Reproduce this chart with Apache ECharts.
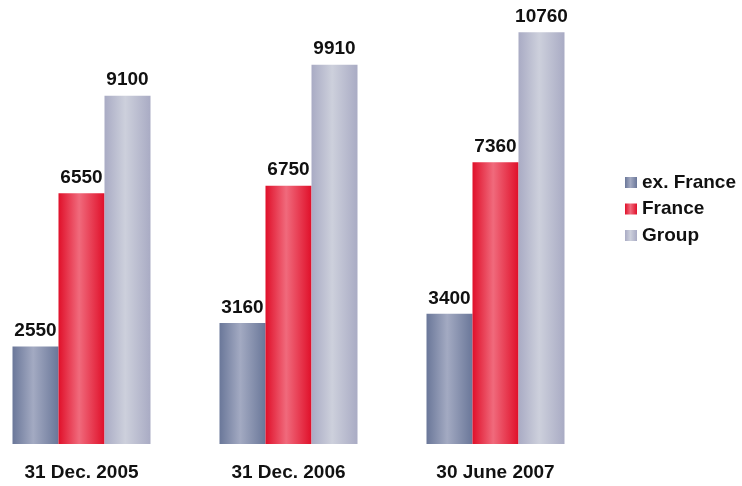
<!DOCTYPE html>
<html>
<head>
<meta charset="utf-8">
<script src="https://cdn.jsdelivr.net/npm/echarts@6/dist/echarts.min.js"></script>
<style>html,body{margin:0;padding:0;background:#fff;overflow:hidden;}#c{width:764px;height:486px;margin-left:-22px;}</style>
</head>
<body>
<div id="c"></div>
<script>
const categories = ['31 Dec. 2005', '31 Dec. 2006', '30 June 2007'];
const seriesNames = ['ex. France', 'France', 'Group'];
const exFrance = [2550, 3160, 3400];
const france = [6550, 6750, 7360];
const group = [9100, 9910, 10760];

function grad(edge, mid) {
  return new echarts.graphic.LinearGradient(0, 0, 1, 0, [
    {offset: 0, color: edge},
    {offset: 0.45, color: mid},
    {offset: 1, color: edge}
  ]);
}
const fontFam = '"Liberation Sans", Arial, sans-serif';
const lbl = {show: true, position: 'top', distance: 6, color: '#111', fontWeight: 'bold', fontSize: 19, fontFamily: fontFam};

const chart = echarts.init(document.getElementById('c'));
chart.setOption({
  animation: false,
  backgroundColor: '#fff',
  grid: {left: 0, width: 621, top: 23, bottom: 42, containLabel: false},
  legend: {
    orient: 'vertical', left: 642, top: 168,
    itemWidth: 12, itemHeight: 11, itemGap: 7.5,
    icon: 'rect',
    textStyle: {color: '#111', fontWeight: 'bold', fontSize: 19, fontFamily: fontFam},
    data: seriesNames
  },
  xAxis: {
    type: 'category', data: categories,
    axisLine: {show: false}, axisTick: {show: false},
    axisLabel: {color: '#111', fontWeight: 'bold', fontSize: 19, fontFamily: fontFam, margin: 19}
  },
  yAxis: {type: 'value', min: 0, max: 11000, show: false, splitLine: {show: false}},
  series: [
    {name: seriesNames[0], type: 'bar', data: exFrance, barWidth: 46, barGap: '0%',
     itemStyle: {color: grad('#6a7799', '#a3aac2')}, label: lbl},
    {name: seriesNames[1], type: 'bar', data: france, barWidth: 46, barGap: '0%',
     itemStyle: {color: grad('#e0102a', '#f06a7c')}, label: lbl},
    {name: seriesNames[2], type: 'bar', data: group, barWidth: 46, barGap: '0%',
     itemStyle: {color: grad('#a9abc4', '#cdd0dc')}, label: lbl}
  ]
});
</script>
</body>
</html>
